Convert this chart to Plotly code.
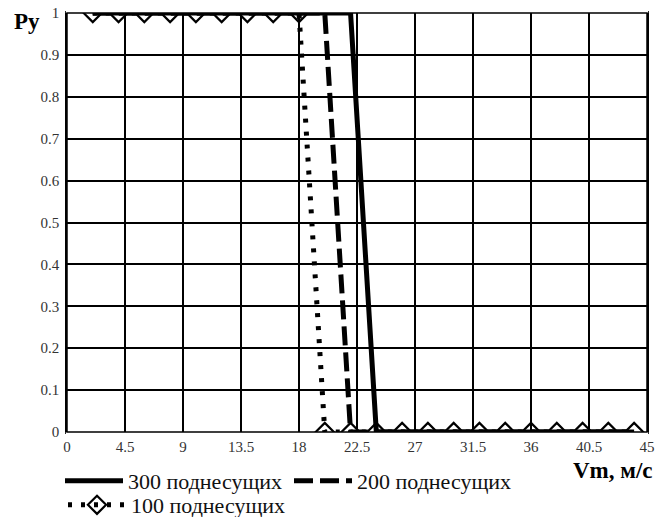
import plotly.graph_objects as go

# Data
vm = [2, 4, 6, 8, 10, 12, 14, 16, 18, 20, 22, 24, 26, 28, 30, 32, 34, 36, 38, 40, 42, 44]
p300 = [1, 1, 1, 1, 1, 1, 1, 1, 1, 1, 1, 0, 0, 0, 0, 0, 0, 0, 0, 0, 0, 0]
p200 = [1, 1, 1, 1, 1, 1, 1, 1, 1, 1, 0, 0, 0, 0, 0, 0, 0, 0, 0, 0, 0, 0]
p100 = [1, 1, 1, 1, 1, 1, 1, 1, 1, 0, 0, 0, 0, 0, 0, 0, 0, 0, 0, 0, 0, 0]
x_ticks = [0, 4.5, 9, 13.5, 18, 22.5, 27, 31.5, 36, 40.5, 45]
x_tick_text = ["0", "4.5", "9", "13.5", "18", "22.5", "27", "31.5", "36", "40.5", "45"]
y_ticks = [0, 0.1, 0.2, 0.3, 0.4, 0.5, 0.6, 0.7, 0.8, 0.9, 1]
y_tick_text = ["0", "0.1", "0.2", "0.3", "0.4", "0.5", "0.6", "0.7", "0.8", "0.9", "1"]

SERIF = "Liberation Serif, Times New Roman, serif"
W, H = 656, 517
PL, PR, PT, PB = 67, 647, 13, 432  # plot box in pixels

fig = go.Figure()
fig.add_trace(go.Scatter(
    x=vm, y=p100, name="100 поднесущих", mode="lines+markers",
    line=dict(color="black", width=5, dash="4px,9px"),
    marker=dict(symbol="diamond-open", size=14, color="black", line=dict(width=2.2, color="black")),
    legend="legend3",
))
fig.add_trace(go.Scatter(
    x=vm, y=p200, name="200 поднесущих", mode="lines",
    line=dict(color="black", width=5, dash="19px,7px"),
    legend="legend2",
))
fig.add_trace(go.Scatter(
    x=vm, y=p300, name="300 поднесущих", mode="lines",
    line=dict(color="black", width=5),
    legend="legend",
))

leg_common = dict(font=dict(family=SERIF, size=22, color="#111"),
                  bgcolor="rgba(0,0,0,0)", orientation="h",
                  xanchor="left", yanchor="middle", itemwidth=58,
                  tracegroupgap=0)

plot_h = PB - PT
fig.update_layout(
    template="none",
    width=W, height=H,
    margin=dict(l=0, r=0, t=0, b=0, autoexpand=False),
    paper_bgcolor="white", plot_bgcolor="white",
    showlegend=True,
    legend=dict(x=60 / W, y=(H - 481) / H, **leg_common),
    legend2=dict(x=289 / W, y=(H - 481) / H, **leg_common),
    legend3=dict(x=63 / W, y=(H - 505) / H, **leg_common),
    xaxis=dict(domain=[PL / W, PR / W], range=[0, 45], automargin=False,
               tickvals=x_ticks, ticktext=x_tick_text,
               showgrid=True, gridcolor="black", gridwidth=2,
               showline=True, linecolor="black", linewidth=1.5, mirror=True,
               zeroline=False, ticks="",
               tickfont=dict(family=SERIF, size=15, color="#333")),
    yaxis=dict(domain=[(H - PB) / H, (H - PT) / H], range=[0, 1], automargin=False,
               tickvals=y_ticks, ticktext=y_tick_text,
               showgrid=True, gridcolor="black", gridwidth=2,
               showline=True, linecolor="black", linewidth=1.5, mirror=True,
               zeroline=False, ticks="", ticklabelstandoff=3,
               tickfont=dict(family=SERIF, size=15, color="#333")),
    shapes=[
        # hide the parts of markers that fall outside the plot box
        dict(type="rect", xref="x domain", yref="y domain", x0=-0.002, x1=1.002,
             y0=1, y1=1 + (PT + 1) / plot_h, fillcolor="white", line=dict(width=0), layer="above"),
        dict(type="rect", xref="x domain", yref="y domain", x0=-0.002, x1=1.002,
             y0=-8 / plot_h, y1=0, fillcolor="white", line=dict(width=0), layer="above"),
        # plot frame
        dict(type="rect", xref="x domain", yref="y domain", x0=0, x1=1, y0=0, y1=1,
             line=dict(color="black", width=1.5), fillcolor="rgba(0,0,0,0)", layer="above"),
    ],
    annotations=[
        dict(text="<b>Py</b>", xref="paper", yref="paper", x=27 / W, y=(H - 22) / H,
             xanchor="center", yanchor="middle", showarrow=False,
             font=dict(family=SERIF, size=23, color="black")),
        dict(text="<b>Vm, м/с</b>", xref="paper", yref="paper", x=655 / W, y=(H - 470) / H,
             xanchor="right", yanchor="middle", showarrow=False,
             font=dict(family=SERIF, size=23, color="black")),
    ],
)

fig.write_html("out.html",
               config={"displayModeBar": False},
               post_script="document.body.style.margin='0';document.body.style.overflow='hidden';")
